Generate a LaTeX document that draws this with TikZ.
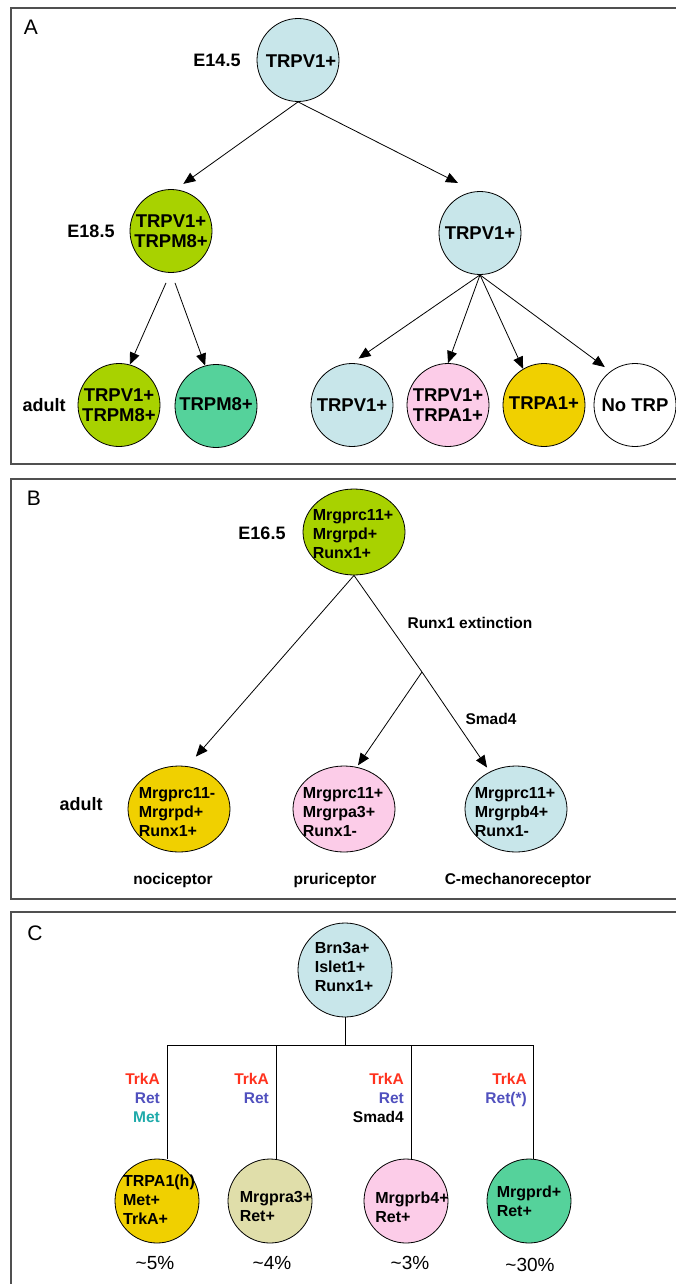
\documentclass[tikz,border=0pt]{standalone}
\usepackage{fontspec}
\setmainfont{Liberation Sans}
\usetikzlibrary{shapes.geometric,arrows.meta}
\definecolor{cellblue}{RGB}{200,230,234}
\definecolor{cellgreen}{RGB}{168,210,0}
\definecolor{cellteal}{RGB}{85,210,155}
\definecolor{cellpink}{RGB}{252,204,232}
\definecolor{cellyellow}{RGB}{240,208,0}
\definecolor{cellkhaki}{RGB}{224,222,170}
\definecolor{trkred}{RGB}{255,50,30}
\definecolor{retblue}{RGB}{80,80,190}
\definecolor{metteal}{RGB}{30,170,170}
\definecolor{framegray}{RGB}{80,80,80}

\begin{document}
\begin{tikzpicture}[x=1pt,y=-1pt,
  cell/.style={ellipse,draw=black,line width=0.8pt,inner sep=0pt,minimum width=82pt,minimum height=83pt},
  cellB/.style={cell,minimum width=102pt,minimum height=86pt},
  cellC/.style={cell,minimum width=84pt,minimum height=84pt},
  txtA/.style={inner sep=0pt,align=center,font=\fontsize{18.5}{20}\selectfont\bfseries},
  txtB/.style={inner sep=0pt,align=left,font=\fontsize{16}{19}\selectfont\bfseries},
  tag/.style={anchor=base,inner sep=0pt,font=\fontsize{18}{21}\selectfont\bfseries},
  note/.style={anchor=base,inner sep=0pt,font=\fontsize{15.5}{18}\selectfont\bfseries},
  pct/.style={anchor=base,inner sep=0pt,font=\fontsize{19}{22}\selectfont},
  letter/.style={anchor=center,inner sep=0pt,font=\fontsize{21}{24}\selectfont},
  panelframe/.style={draw=framegray,line width=1.4pt},
  arr/.style={-{Triangle[length=12pt,width=10pt]},line width=0.8pt},
  cue/.style={anchor=north east,inner sep=0pt,align=right,font=\fontsize{15.5}{19}\selectfont\bfseries},
  wire/.style={line width=0.8pt}]
\useasboundingbox (0,0) rectangle (676,1284);
\clip (0,0) rectangle (676,1284);
\fill[white] (0,0) rectangle (676,1284);

\draw[panelframe] (11,8) rectangle (700,464);
\node[letter] (la) at (31,27) {A};
\node[cell,fill=cellblue] (a0) at (298,60) {};
\node[txtA] (a0t) at (301,61) {TRPV1+};
\node[tag] (e145) at (217,67) {E14.5};
\node[cell,fill=cellgreen] (a1) at (171,231) {};
\node[txtA] (a1t) at (a1) {TRPV1+\\TRPM8+};
\node[tag] (e185) at (91,237) {E18.5};
\node[cell,fill=cellblue] (a2) at (480,233) {};
\node[txtA] (a2t) at (a2) {TRPV1+};
\node[tag] (adulta) at (44,411) {adult};
\node[cell,fill=cellgreen] (a3) at (119,405) {};
\node[txtA] (a3t) at (a3) {TRPV1+\\TRPM8+};
\node[cell,fill=cellteal] (a4) at (216,406) {};
\node[txtA] (a4t) at ([yshift=2pt]a4) {TRPM8+};
\node[cell,fill=cellblue] (a5) at (352,405) {};
\node[txtA] (a5t) at (a5) {TRPV1+};
\node[cell,fill=cellpink] (a6) at (448,405) {};
\node[txtA] (a6t) at (a6) {TRPV1+\\TRPA1+};
\node[cell,fill=cellyellow] (a7) at (544,405) {};
\node[txtA] (a7t) at ([yshift=2pt]a7) {TRPA1+};
\node[cell,fill=white] (a8) at (635,405) {};
\node[txtA] (a8t) at (a8) {No TRP};
\draw[arr,shorten >=9pt] (a0.south) -- ([xshift=5pt]a1.north);
\draw[arr,shorten >=18pt] (a0.south) -- ([xshift=-6pt]a2.north);
\draw[arr] ([xshift=-5pt,yshift=-10pt]a1.south) -- (a3.75);
\draw[arr] ([xshift=4pt,yshift=-10pt]a1.south) -- (a4.105);
\draw[arr,shorten >=8pt] (a2.south) -- (a5.north);
\draw[arr] (a2.south) -- (a6.north);
\draw[arr] (a2.south) -- (a7.120);
\draw[arr,shorten >=7pt] (a2.south) -- (a8.126);

\draw[panelframe] (11,479) rectangle (700,899);
\node[letter] (lb) at (34,498) {B};
\node[cellB,fill=cellgreen] (b0) at (354,532) {};
\node[txtB] (b0t) at (353,534) {Mrgprc11+\\Mrgrpd+\\Runx1+};
\node[tag] (e165) at (262,539) {E16.5};
\node[tag] (adultb) at (81,810) {adult};
\node[cellB,fill=cellyellow] (b1) at (179,809) {};
\node[txtB] (b1t) at (177,812) {Mrgprc11-\\Mrgrpd+\\Runx1+};
\node[cellB,fill=cellpink] (b2) at (344,809) {};
\node[txtB] (b2t) at (343,812) {Mrgprc11+\\Mrgrpa3+\\Runx1-};
\node[cellB,fill=cellblue] (b3) at (516,809) {};
\node[txtB] (b3t) at (515,812) {Mrgprc11+\\Mrgrpb4+\\Runx1-};
\node[note] (noci) at (173,884) {nociceptor};
\node[note] (prur) at (335,884) {pruriceptor};
\node[note] (mech) at (518,884) {C-mechanoreceptor};
\coordinate (bsplit) at (422,672);
\draw[arr,shorten >=12pt] (b0.south) -- ([xshift=9pt]b1.north);
\draw[arr,shorten >=5pt] (b0.south) -- (bsplit) -- (b3.125);
\draw[arr,shorten >=2pt] (bsplit) -- (b2.73);
\node[note] (runx) at (470,628) {Runx1 extinction};
\node[note] (smad) at (491,724) {Smad4};

\draw[panelframe] (11,912) rectangle (700,1300);
\node[letter] (lc) at (35,933) {C};
\node[cellC,fill=cellblue,minimum width=94pt,minimum height=94pt] (c0) at (345,970) {};
\node[txtB] (c0t) at (344,967) {Brn3a+\\Islet1+\\Runx1+};
\node[cellC,fill=cellyellow] (c1) at (157,1201) {};
\node[txtB] (c1t) at (159,1200) {TRPA1(h)\\Met+\\TrkA+};
\node[cellC,fill=cellkhaki] (c2) at (270,1201) {};
\node[txtB] (c2t) at (276,1206) {Mrgpra3+\\Ret+};
\node[cellC,fill=cellpink] (c3) at (406,1201) {};
\node[txtB] (c3t) at (412,1207) {Mrgprb4+\\Ret+};
\node[cellC,fill=cellteal] (c4) at (529,1201) {};
\node[txtB] (c4t) at (529,1201) {Mrgprd+\\Ret+};
\coordinate (d1) at (167,1045);
\coordinate (d2) at (276,1045);
\coordinate (d3) at (411,1045);
\coordinate (d4) at (533,1045);
\draw[wire] (c0.south) -- (c0.south |- d1);
\draw[wire] (d1) -- (d4);
\draw[wire] (d1) -- (d1 |- c1.north);
\draw[wire] (d2) -- (d2 |- c2.north);
\draw[wire] (d3) -- (d3 |- c3.north);
\draw[wire] (d4) -- (d4 |- c4.north);
\node[cue] (s1) at (160,1073) {{\color{trkred}TrkA}\\{\color{retblue}Ret}\\{\color{metteal}Met}};
\node[cue] (s2) at (269,1073) {{\color{trkred}TrkA}\\{\color{retblue}Ret}};
\node[cue] (s3) at (404,1073) {{\color{trkred}TrkA}\\{\color{retblue}Ret}\\Smad4};
\node[cue] (s4) at (527,1073) {{\color{trkred}TrkA}\\{\color{retblue}Ret(*)}};
\node[pct] (p1) at (155,1269) {\textasciitilde 5\%};
\node[pct] (p2) at (272,1269) {\textasciitilde 4\%};
\node[pct] (p3) at (410,1269) {\textasciitilde 3\%};
\node[pct] (p4) at (530,1271) {\textasciitilde 30\%};
\end{tikzpicture}
\end{document}
